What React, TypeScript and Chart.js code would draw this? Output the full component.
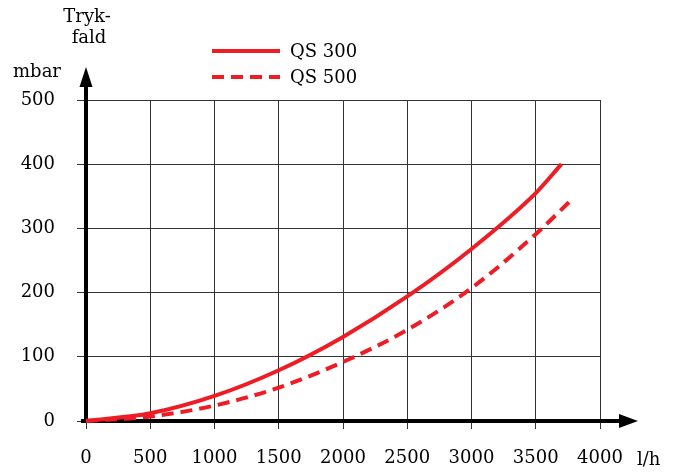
import React, { useEffect, useRef } from "react";
import { Chart, registerables } from "chart.js";

Chart.register(...registerables);

const qs300X = [0, 500, 1000, 1500, 2000, 2500, 3000, 3500, 3700];
const qs300Y = [0, 12, 39, 79, 131, 194, 268, 355, 400];
const qs500X = [0, 500, 1000, 1500, 2000, 2500, 3000, 3500, 3770];
const qs500Y = [0, 7, 24, 52, 92, 142, 207, 291, 343];
const seriesLabels = ["QS 300", "QS 500"];
const yTitleLines = ["Tryk-", "fald"];
const yUnit = "mbar";
const xUnit = "l/h";

const RED = "#ee1c25";
const FONT = "'DejaVu Serif', serif";

const overlay = {
  id: "overlay",
  beforeDatasetsDraw(chart: any) {
    const ctx = chart.ctx;
    const xs = chart.scales.x;
    const ys = chart.scales.y;
    const x0 = xs.getPixelForValue(0);
    const y0 = ys.getPixelForValue(0);
    ctx.save();
    ctx.strokeStyle = "#000";
    ctx.fillStyle = "#000";
    ctx.lineWidth = 4;
    ctx.lineCap = "butt";
    ctx.beginPath();
    ctx.moveTo(x0, y0 + 2);
    ctx.lineTo(x0, 84);
    ctx.stroke();
    ctx.beginPath();
    ctx.moveTo(x0, 67);
    ctx.lineTo(x0 - 6.5, 87);
    ctx.lineTo(x0 + 6.5, 87);
    ctx.closePath();
    ctx.fill();
    ctx.beginPath();
    ctx.moveTo(x0 - 5, y0);
    ctx.lineTo(622, y0);
    ctx.stroke();
    ctx.beginPath();
    ctx.moveTo(638, y0);
    ctx.lineTo(619, y0 - 7);
    ctx.lineTo(619, y0 + 7);
    ctx.closePath();
    ctx.fill();
    ctx.restore();
  },
  afterDraw(chart: any) {
    const ctx = chart.ctx;
    ctx.save();
    ctx.fillStyle = "#000";
    ctx.font = `18px ${FONT}`;
    ctx.textAlign = "center";
    ctx.textBaseline = "middle";
    ctx.fillText(yTitleLines[0], 87, 17);
    ctx.fillText(yTitleLines[1], 89, 38);
    ctx.fillText(yUnit, 37, 72);
    ctx.textAlign = "left";
    ctx.fillText(xUnit, 637, 460);
    const ds = chart.data.datasets;
    const rows = [51, 77];
    ds.forEach((d: any, i: number) => {
      const y = rows[i];
      ctx.strokeStyle = d.borderColor;
      ctx.lineWidth = d.borderWidth;
      ctx.setLineDash(d.borderDash || []);
      ctx.beginPath();
      ctx.moveTo(212, y);
      ctx.lineTo(280, y);
      ctx.stroke();
      ctx.setLineDash([]);
      ctx.fillStyle = "#000";
      ctx.textAlign = "left";
      ctx.fillText(d.label, 290, y + 1);
    });
    ctx.restore();
  },
};

export default function App() {
  const ref = useRef<HTMLCanvasElement>(null);
  useEffect(() => {
    if (!ref.current) return;
    const chart = new Chart(ref.current, {
      type: "line",
      data: {
        datasets: [
          {
            label: seriesLabels[0],
            data: qs300X.map((x, i) => ({ x, y: qs300Y[i] })),
            borderColor: RED,
            borderWidth: 4,
            pointRadius: 0,
            cubicInterpolationMode: "monotone",
            fill: false,
            clip: false as any,
          },
          {
            label: seriesLabels[1],
            data: qs500X.map((x, i) => ({ x, y: qs500Y[i] })),
            borderColor: RED,
            borderWidth: 4,
            borderDash: [12, 7],
            pointRadius: 0,
            cubicInterpolationMode: "monotone",
            fill: false,
            clip: false as any,
          },
        ],
      },
      options: {
        responsive: false,
        animation: false,
        devicePixelRatio: 1,
        layout: { padding: { top: 100, right: 83, left: 0, bottom: 0 } },
        plugins: { legend: { display: false }, tooltip: { enabled: false } },
        scales: {
          x: {
            type: "linear",
            min: 0,
            max: 4000,
            ticks: {
              stepSize: 500,
              autoSkip: false,
              maxRotation: 0,
              padding: 19,
              color: "#000",
              font: { family: FONT, size: 18 },
              callback: (v: any) => String(v),
            },
            grid: { color: "#333", lineWidth: 1, tickLength: 8, drawTicks: true },
            border: { display: false },
            afterFit: (s: any) => {
              s.height = 51;
            },
          },
          y: {
            min: 0,
            max: 500,
            ticks: {
              stepSize: 100,
              padding: 22,
              color: "#000",
              font: { family: FONT, size: 18 },
              callback: (v: any) => String(v),
            },
            grid: { color: "#333", lineWidth: 1, tickLength: 9, drawTicks: true },
            border: { display: false },
            afterFit: (s: any) => {
              s.width = 86;
            },
          },
        },
      },
      plugins: [overlay],
    });
    return () => chart.destroy();
  }, []);
  return (
    <div style={{ position: "fixed", left: 0, top: 0, width: 683, height: 472, background: "#fff" }}>
      <canvas ref={ref} width={683} height={472} style={{ display: "block" }} />
    </div>
  );
}
